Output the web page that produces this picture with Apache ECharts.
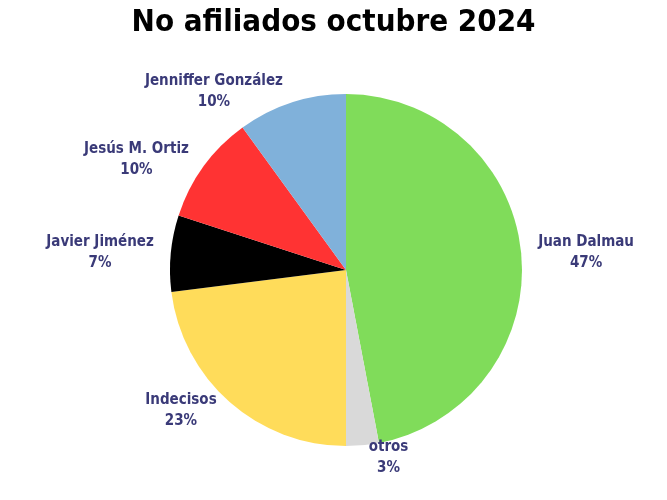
<!DOCTYPE html>
<html>
<head>
<meta charset="utf-8">
<script src="https://cdn.jsdelivr.net/npm/echarts@6/dist/echarts.min.js"></script>
<style>html,body{margin:0;padding:0;background:#fff}#chart{width:667px;height:500px}</style>
</head>
<body>
<div id="chart"></div>
<script>
var categories = ['Juan Dalmau', 'otros', 'Indecisos', 'Javier Jiménez', 'Jesús M. Ortiz', 'Jenniffer González'];
var values = [47, 3, 23, 7, 10, 10];
var colors = ['#80dc5a', '#d9d9d9', '#ffdc5a', '#000000', '#ff3333', '#80b1da'];

var font = '"DejaVu Sans Condensed", "Liberation Sans Narrow", sans-serif';
var data = categories.map(function (name, i) {
    return { name: name, value: values[i], itemStyle: { color: colors[i] } };
});
var chart = echarts.init(document.getElementById('chart'));
chart.setOption({
    animation: false,
    title: {
        text: 'No afiliados octubre 2024',
        left: 'center', top: 2,
        textStyle: { fontFamily: font, fontSize: 31, fontWeight: 'bold', color: '#000' }
    },
    series: [{
        type: 'pie',
        center: [346, 270],
        radius: 176,
        startAngle: 90,
        clockwise: true,
        data: data,
        label: {
            show: true, position: 'outside',
            formatter: '{n|{b}}\n{n|{c}%}',
            rich: { n: { fontFamily: font, fontSize: 15, fontWeight: 'bold', color: '#3a3a78', lineHeight: 21, align: 'center' } }
        },
        labelLine: { show: false, length: 12, length2: 0 }
    }]
});
</script>
</body>
</html>
